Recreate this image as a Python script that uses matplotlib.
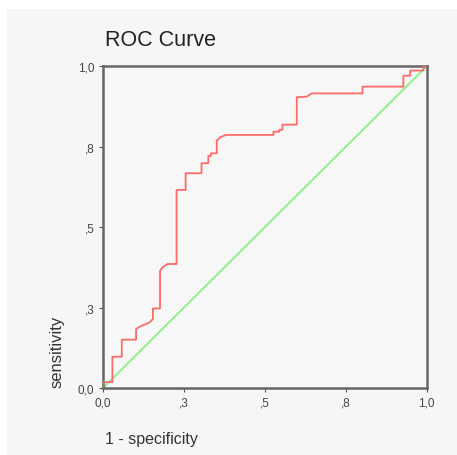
import matplotlib
matplotlib.use("Agg")
import matplotlib.pyplot as plt
from matplotlib.patches import Rectangle

plt.rcParams['font.family'] = ['Liberation Sans', 'DejaVu Sans']

# ROC curve vertices (1 - specificity, sensitivity)
fpr = [0.0, 0.0, 0.03, 0.03, 0.059, 0.059, 0.103, 0.103, 0.115, 0.13, 0.145,
       0.155, 0.155, 0.177, 0.177, 0.185, 0.20, 0.228, 0.228, 0.256, 0.256,
       0.305, 0.305, 0.326, 0.326, 0.334, 0.334, 0.352, 0.352, 0.362, 0.38,
       0.527, 0.527, 0.545, 0.545, 0.555, 0.555, 0.599, 0.599, 0.63, 0.645,
       0.645, 0.802, 0.802, 0.928, 0.928, 0.949, 0.949, 0.99, 0.99, 1.0]
tpr = [0.0, 0.019, 0.019, 0.098, 0.098, 0.151, 0.151, 0.184, 0.192, 0.198,
       0.205, 0.215, 0.248, 0.248, 0.365, 0.376, 0.386, 0.386, 0.616, 0.616,
       0.668, 0.668, 0.699, 0.699, 0.722, 0.722, 0.73, 0.73, 0.769, 0.779,
       0.787, 0.787, 0.797, 0.797, 0.803, 0.803, 0.819, 0.819, 0.904, 0.906,
       0.916, 0.916, 0.916, 0.937, 0.937, 0.971, 0.971, 0.987, 0.987, 1.0, 1.0]
ref_line = [0.0, 1.0]

tick_vals = [0.0, 0.25, 0.5, 0.75, 1.0]
tick_labels = ["0,0", ",3", ",5", ",8", "1,0"]

fig = plt.figure(figsize=(4.57, 4.56), dpi=100)
fig.patch.set_facecolor("white")
# grey SPSS chart panel behind everything
panel = Rectangle((7 / 457, 0), 1, 1 - 10 / 456, transform=fig.transFigure,
                  facecolor="#f6f6f6", edgecolor="none", zorder=-10)
fig.patches.append(panel)

ax = fig.add_axes([0.2247, 0.1463, 0.709, 0.706])
ax.set_zorder(1)
ax.set_facecolor("#f7f7f7")

ax.plot(ref_line, ref_line, color="#88ee88", lw=1.3, zorder=2)
ax.plot(fpr, tpr, color="#ff6a6a", lw=1.3, zorder=3)

ax.set_xlim(0, 1)
ax.set_ylim(0, 1)
ax.set_xticks(tick_vals)
ax.set_xticklabels(tick_labels)
ax.set_yticks(tick_vals)
ax.set_yticklabels(tick_labels)
ax.tick_params(labelsize=8.5, labelcolor="#444444", color="#555555",
               length=3, width=0.8, pad=3)

for s in ax.spines.values():
    s.set_color("#666666")
    s.set_linewidth(1.8)

fig.text(105 / 457, 1 - 40 / 456, "ROC Curve", fontsize=15.5, color="#222222",
         ha="left", va="center")
fig.text(105 / 457, 1 - 440 / 456, "1 - specificity", fontsize=11.5, color="#333333",
         ha="left", va="center")
fig.text(57 / 457, 1 - 352 / 456, "sensitivity", fontsize=12, color="#333333",
         ha="center", va="center", rotation=90)

fig.savefig("out.png", dpi=100)
